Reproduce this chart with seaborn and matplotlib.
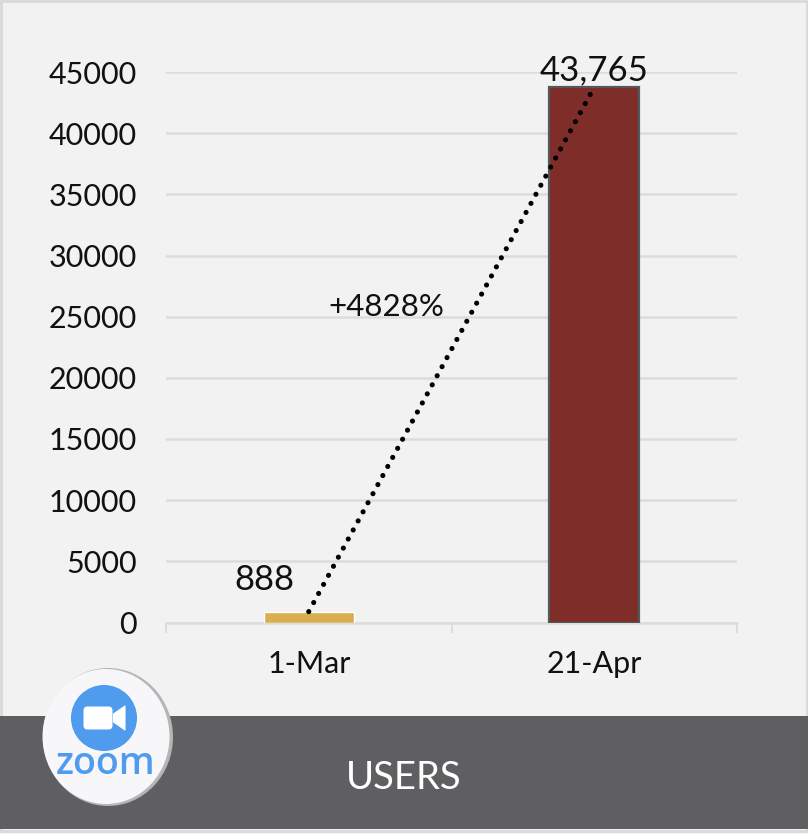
import matplotlib
matplotlib.use('Agg')
import matplotlib.pyplot as plt
import seaborn as sns
import pandas as pd
from matplotlib.patches import Circle, Ellipse, FancyBboxPatch, Polygon, Rectangle

# values
dates = ['1-Mar', '21-Apr']
users = [888, 43765]
value_labels = ['888', '43,765']
bar_colors = ['#d9ae4e', '#7e2d29']
growth_label = '+4828%'
y_ticks = [0, 5000, 10000, 15000, 20000, 25000, 30000, 35000, 40000, 45000]
panel_title = 'USERS'

W, H = 808, 834
BG = '#f2f2f2'
GRID = '#dcdcdc'
BAND = '#5f5f61'
ZOOM_BLUE = '#4f9bee'
TEXT = '#111111'

sns.set_theme(style='white')
plt.rcParams['font.family'] = ['Lato', 'DejaVu Sans']

df = pd.DataFrame({'date': dates, 'users': users})

fig = plt.figure(figsize=(W / 100, H / 100), dpi=100, facecolor=BG)
ax = fig.add_axes([166 / W, 1 - 622.5 / H, (737 - 166) / W, 550.5 / H], facecolor=BG)

sns.barplot(data=df, x='date', y='users', hue='date', palette=bar_colors, legend=False,
            width=0.315, ax=ax, saturation=1, zorder=3)
# only the tall bar has the dark outline
ax.patches[1].set_edgecolor('#55585a')
ax.patches[1].set_linewidth(1.6)

ax.plot(range(len(users)), users, color='black', lw=3.7, ls=(0, (0.01, 2.0)),
        dash_capstyle='round', zorder=5)

ax.set_xlim(-0.5, 1.5)
ax.set_ylim(0, 45000)
ax.set_yticks(y_ticks)
ax.set_yticklabels([str(t) for t in y_ticks], fontsize=22, color=TEXT)
ax.set_xlabel('')
ax.set_ylabel('')
ax.grid(axis='y', color=GRID, lw=1.8, zorder=0)
ax.set_axisbelow(True)
ax.tick_params(axis='y', length=0, pad=21)
ax.tick_params(axis='x', which='major', length=0, pad=19.5, labelsize=22, labelcolor=TEXT)
ax.set_xticks([-0.5, 0.5, 1.5], minor=True)
ax.tick_params(axis='x', which='minor', bottom=True, length=7, width=1.4, color=GRID)
sns.despine(ax=ax, left=True, top=True, right=True)
ax.spines['bottom'].set_color(GRID)
ax.spines['bottom'].set_linewidth(1.8)

ax.annotate(value_labels[0], (0, users[0]), xytext=(-32, 11), textcoords='offset points',
            ha='center', va='bottom', fontsize=25, color=TEXT)
ax.annotate(value_labels[1], (1, users[1]), xytext=(0, 0.5), textcoords='offset points',
            ha='center', va='bottom', fontsize=25, color=TEXT, zorder=6)
ax.annotate(growth_label, (0.5, 25950), xytext=(-5, -1.5), textcoords='offset points', ha='right', va='center',
            fontsize=22.5, color=TEXT, zorder=6)

# panel furniture drawn in pixel coordinates
deco = fig.add_axes([0, 0, 1, 1], facecolor='none', zorder=3)
deco.set_xlim(0, W)
deco.set_ylim(H, 0)
deco.axis('off')
deco.add_patch(Rectangle((1, 1), W - 2, H - 4, fc='none', ec='#d9d9d9', lw=2))
deco.add_patch(Rectangle((0, 716), W, 113, fc=BAND, ec='none'))
deco.text(404, 778, panel_title, color='white', fontsize=27.5, ha='center', va='center')

# zoom badge
deco.add_patch(Ellipse((108, 737), 130, 138, fc='#b5b5b5', ec='none'))
deco.add_patch(Ellipse((106, 736.5), 127, 135, fc='#f7f7fa', ec='none'))
deco.add_patch(Circle((104, 718), 33, fc=ZOOM_BLUE, ec='none'))
deco.add_patch(FancyBboxPatch((85, 708), 26, 20, boxstyle='round,pad=1.5,rounding_size=4', fc='white', ec='none'))
deco.add_patch(Polygon([[113.5, 714], [125, 706], [125, 730], [113.5, 722]], closed=True, fc='white', ec='white',
                       lw=0.8, joinstyle='round'))
deco.text(105.5, 764, 'zoom', color=ZOOM_BLUE, fontsize=27, fontweight='semibold', ha='center', va='center',
          family=['Open Sans', 'DejaVu Sans'])

fig.savefig('out.png', dpi=100, facecolor=BG)
